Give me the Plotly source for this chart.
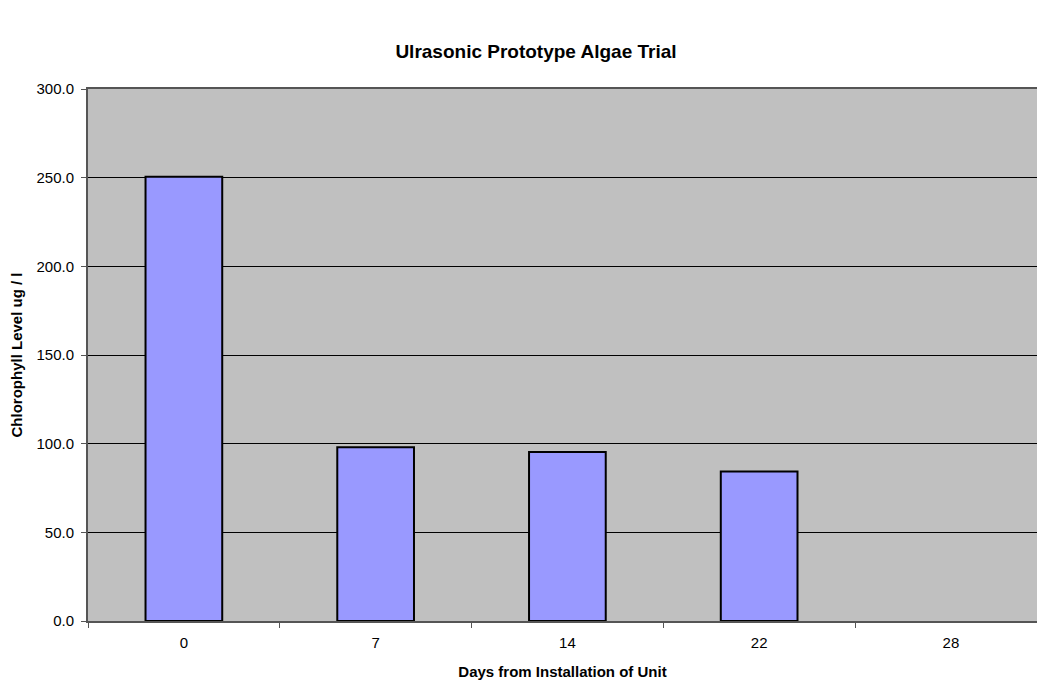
import plotly.graph_objects as go

days = ["0", "7", "14", "22", "28"]
chlorophyll = [250.5, 98.0, 95.3, 84.3, None]

fig = go.Figure()

fig.add_trace(go.Bar(
    x=days,
    y=chlorophyll,
    width=0.4,
    marker=dict(color="#9999FF", line=dict(color="#000000", width=2)),
    showlegend=False,
))

font = "Liberation Sans, Arial, sans-serif"

fig.update_layout(
    width=1037,
    height=682,
    margin=dict(l=88, r=0, t=89, b=61),
    paper_bgcolor="white",
    plot_bgcolor="#C0C0C0",
    font=dict(family=font, size=15, color="black"),
    title=dict(
        text="<b>Ulrasonic Prototype Algae Trial</b>",
        x=536 / 1037, xref="container", xanchor="center",
        y=1 - 51 / 682, yref="container", yanchor="middle",
        font=dict(size=19, family=font),
    ),
    bargap=0.6,
)

fig.update_xaxes(
    type="category",
    range=[-0.5, 4.449],
    tickson="boundaries",
    ticks="outside",
    ticklen=5,
    tickcolor="#555555",
    ticklabelstandoff=7,
    showline=True,
    linecolor="#555555",
    linewidth=2,
    mirror=True,
    showgrid=False,
    tickfont=dict(size=15),
    title=dict(text="<b>Days from Installation of Unit</b>", font=dict(size=15), standoff=16),
)

fig.update_yaxes(
    range=[0, 300],
    dtick=50,
    tickformat=".1f",
    ticks="outside",
    ticklen=5,
    tickcolor="#555555",
    ticklabelstandoff=4,
    showline=True,
    linecolor="#555555",
    linewidth=2,
    showgrid=True,
    gridcolor="#000000",
    gridwidth=1,
    zeroline=False,
    tickfont=dict(size=15),
    title=dict(text="<b>Chlorophyll Level ug / l</b>", font=dict(size=15), standoff=10),
)

fig.write_html(
    "out.html",
    config={"displayModeBar": False},
    post_script="document.body.style.margin='0';",
)
